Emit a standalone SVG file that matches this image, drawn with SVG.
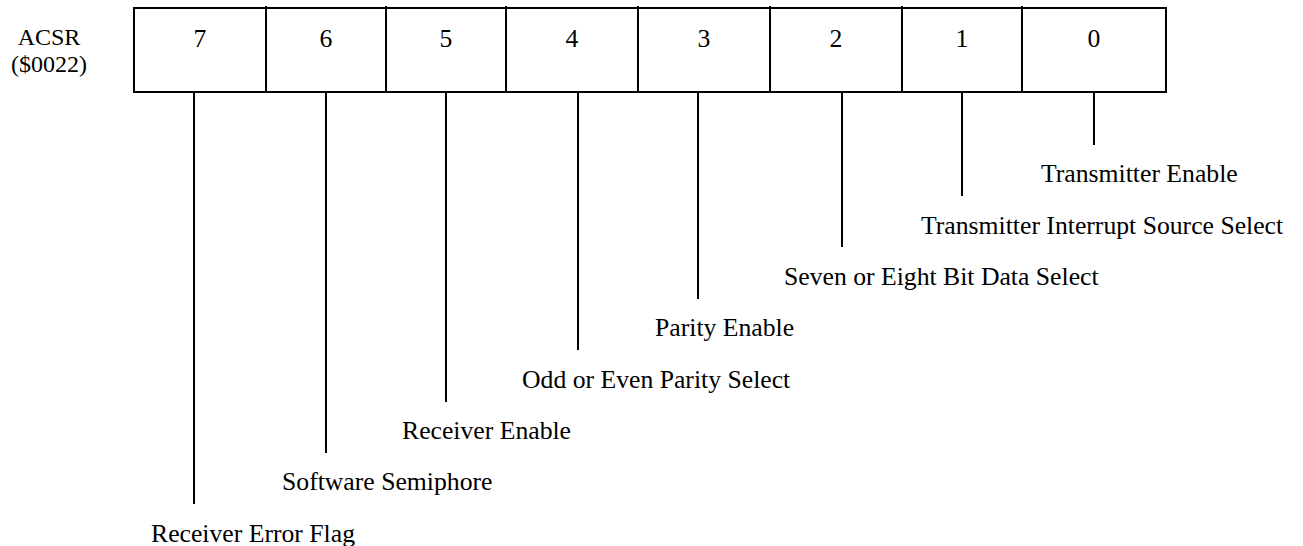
<svg xmlns="http://www.w3.org/2000/svg" width="1303" height="546" viewBox="0 0 1303 546">
<style>
text{font-family:"Liberation Serif","Times New Roman",serif;font-size:25.7px;fill:#000}
.c{text-anchor:middle}
.r{font-size:24px}
.ln{stroke:#000;stroke-width:2;fill:none}
</style>
<rect width="1303" height="546" fill="#fff"/>
<g id="register-label">
<text class="c r" x="49" y="45">ACSR</text>
<text class="c r" x="49" y="72">($0022)</text>
</g>
<g id="register">
<rect class="ln" x="134" y="8" width="1032" height="84"/>
<path class="ln" d="M266 6V92M386 6V92M506 6V92M638 6V92M770 6V92M902 6V92M1022 6V92"/>
<text class="c" x="200" y="47">7</text>
<text class="c" x="326" y="47">6</text>
<text class="c" x="446" y="47">5</text>
<text class="c" x="572" y="47">4</text>
<text class="c" x="704" y="47">3</text>
<text class="c" x="836" y="47">2</text>
<text class="c" x="962" y="47">1</text>
<text class="c" x="1094" y="47">0</text>
</g>
<g id="connectors">
<path class="ln" d="M194 92V504M326 92V453M446 92V402M578 92V350M698 92V299M842 92V247M962 92V196M1094 92V145"/>
</g>
<g id="bit0"><text x="1041" y="182">Transmitter Enable</text></g>
<g id="bit1"><text x="921" y="234">Transmitter Interrupt Source Select</text></g>
<g id="bit2"><text x="784" y="285">Seven or Eight Bit Data Select</text></g>
<g id="bit3"><text x="655" y="336">Parity Enable</text></g>
<g id="bit4"><text x="522" y="388">Odd or Even Parity Select</text></g>
<g id="bit5"><text x="402" y="439">Receiver Enable</text></g>
<g id="bit6"><text x="282" y="490">Software Semiphore</text></g>
<g id="bit7"><text x="151" y="542">Receiver Error Flag</text></g>
</svg>
